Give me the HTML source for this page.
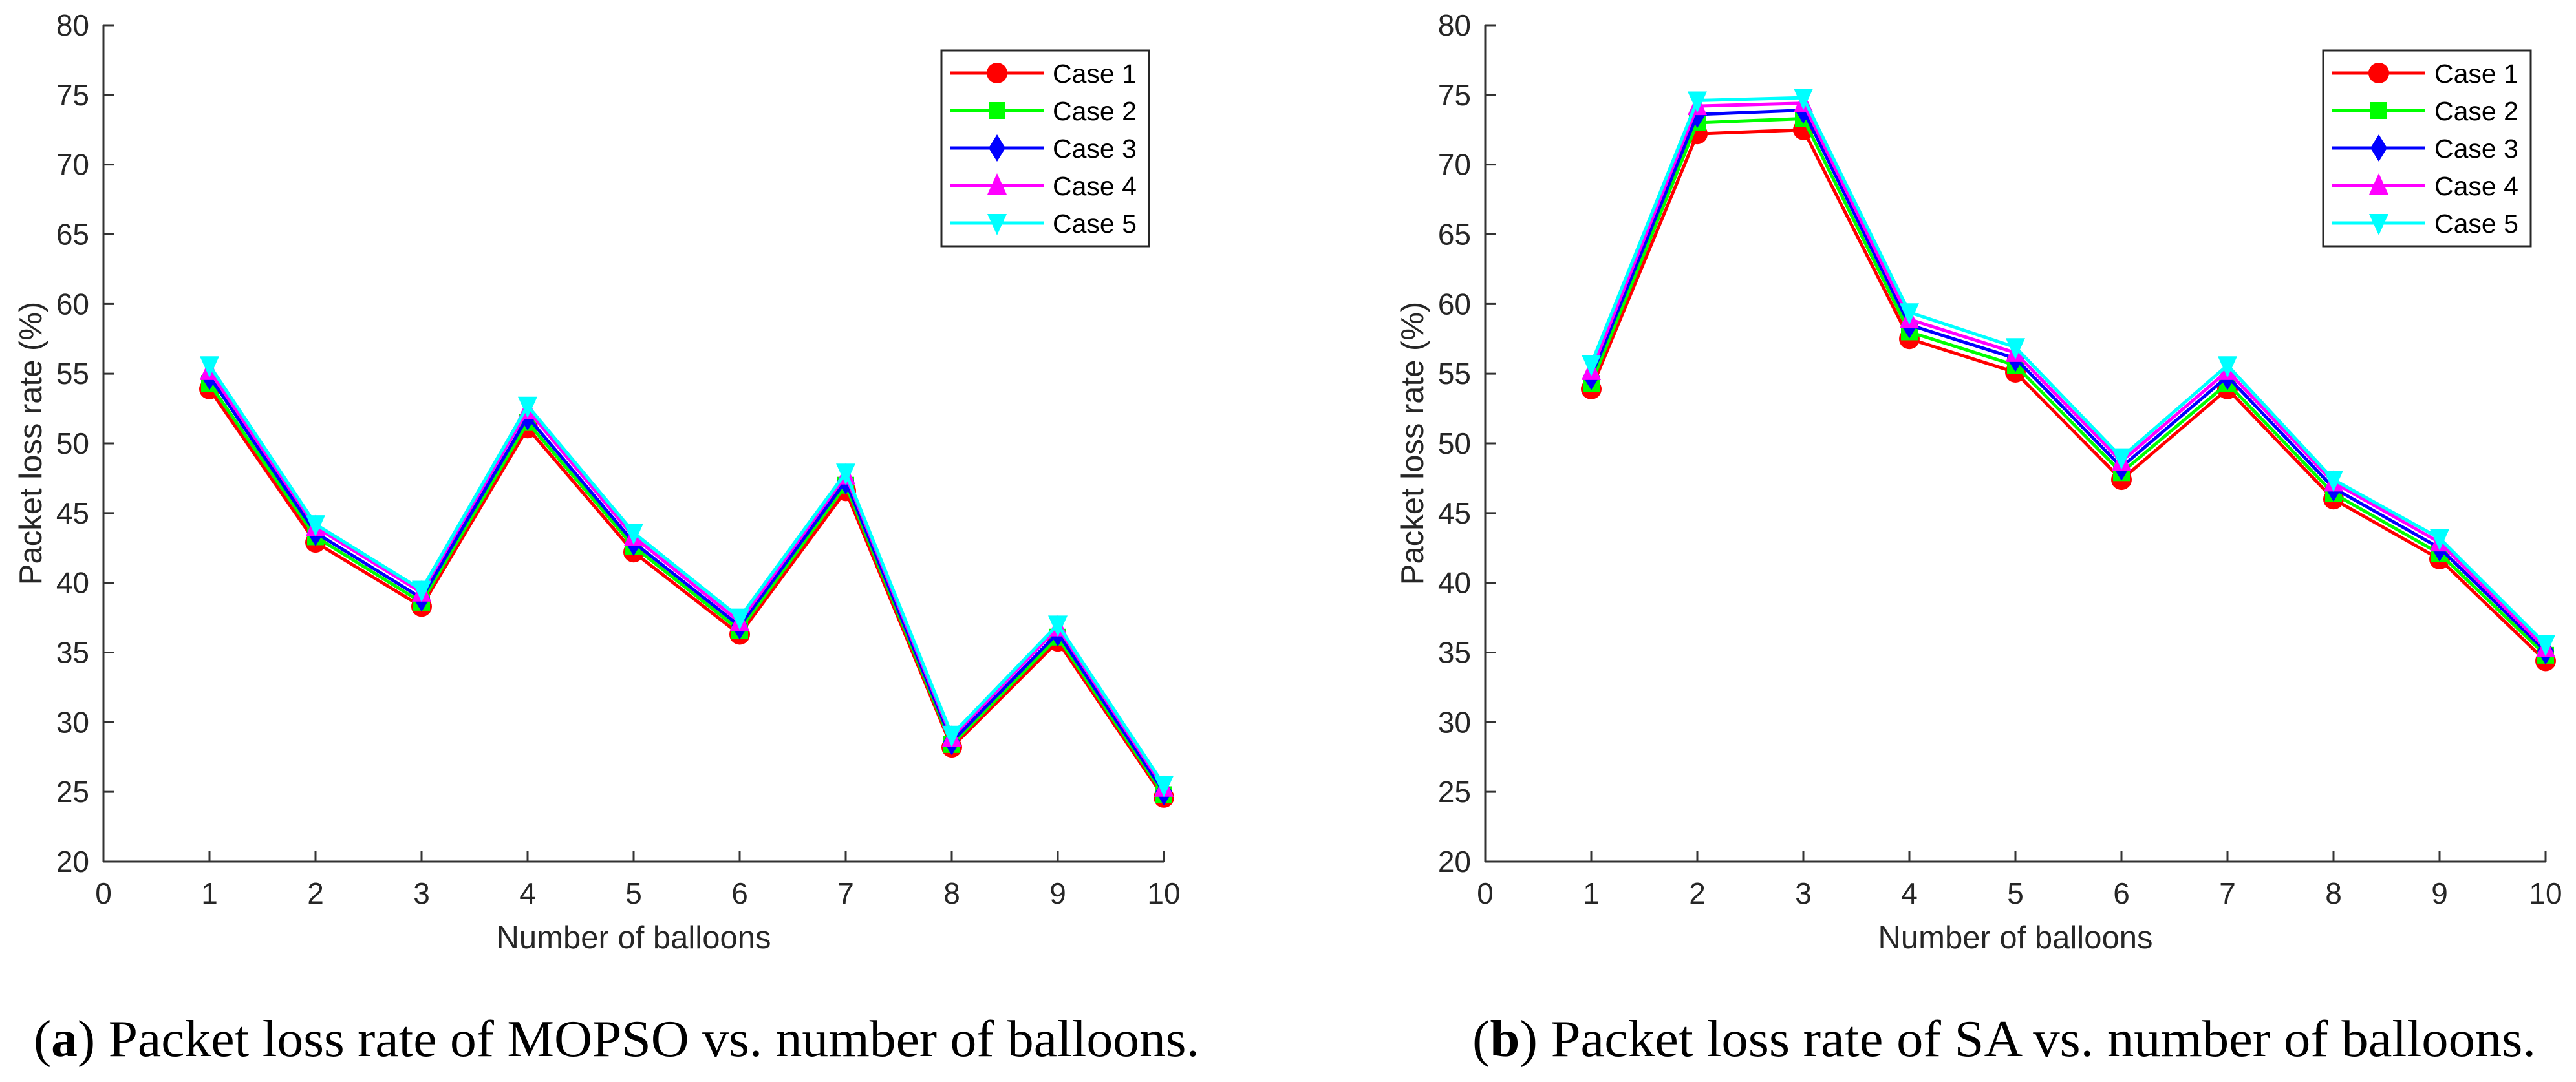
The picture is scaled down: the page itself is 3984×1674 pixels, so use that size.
<!DOCTYPE html>
<html><head><meta charset="utf-8"><style>
html,body{margin:0;padding:0;background:#fff;}
svg{display:block;}
</style></head><body>
<svg id="fig" xmlns="http://www.w3.org/2000/svg" width="3984" height="1674" viewBox="0 0 3984 1674">
<rect width="3984" height="1674" fill="#fff"/>
</svg>
<script>
const categories = [1,2,3,4,5,6,7,8,9,10];
const xTicks = [0,1,2,3,4,5,6,7,8,9,10];
const yTicks = [20,25,30,35,40,45,50,55,60,65,70,75,80];
const seriesNames = ["Case 1","Case 2","Case 3","Case 4","Case 5"];
const mopsoCase1 = [53.9,42.9,38.3,51.1,42.2,36.3,46.6,28.2,35.8,24.6];
const mopsoCase2 = [54.3,43.3,38.6,51.5,42.6,36.6,47.0,28.4,36.1,24.8];
const mopsoCase3 = [54.8,43.6,38.9,51.9,42.9,36.9,47.3,28.6,36.4,25.0];
const mopsoCase4 = [55.2,44.0,39.3,52.4,43.3,37.2,47.7,28.9,36.8,25.3];
const mopsoCase5 = [55.6,44.2,39.5,52.7,43.6,37.5,47.9,29.1,37.0,25.5];
const saCase1 = [53.9,72.2,72.5,57.5,55.1,47.4,53.9,46.0,41.7,34.4];
const saCase2 = [54.3,73.0,73.3,58.0,55.6,47.9,54.3,46.4,42.1,34.8];
const saCase3 = [54.8,73.6,73.9,58.5,56.1,48.3,54.8,46.8,42.5,35.1];
const saCase4 = [55.2,74.2,74.4,58.9,56.5,48.7,55.2,47.2,42.9,35.3];
const saCase5 = [55.7,74.6,74.8,59.4,56.9,49.0,55.6,47.4,43.2,35.6];

const NS = "http://www.w3.org/2000/svg";
const svg = document.getElementById('fig');
const colors = ["#ff0000","#00ff00","#0000ff","#ff00ff","#00ffff"];
const markers = ["circle","square","diamond","up","down"];

function mk(tag, attrs, parent){
  const e = document.createElementNS(NS, tag);
  for (const k in attrs) e.setAttribute(k, attrs[k]);
  (parent||svg).appendChild(e);
  return e;
}
function marker(g, type, cx, cy, color){
  let e;
  if (type==="circle") e = mk('circle',{cx:cx,cy:cy,r:16,fill:color},g);
  else if (type==="square") e = mk('rect',{x:cx-13,y:cy-13,width:26,height:26,fill:color},g);
  else if (type==="diamond") e = mk('polygon',{points:`${cx},${cy-21} ${cx+13},${cy} ${cx},${cy+21} ${cx-13},${cy}`,fill:color},g);
  else if (type==="up") e = mk('polygon',{points:`${cx},${cy-19} ${cx+15},${cy+14} ${cx-15},${cy+14}`,fill:color},g);
  else e = mk('polygon',{points:`${cx},${cy+19} ${cx+15},${cy-14} ${cx-15},${cy-14}`,fill:color},g);
  return e;
}

function drawChart(x0, id, seriesList, captionBold, captionRest, capX, capW){
  const x10 = x0 + 1640, yTop = 39, yBot = 1333;
  const xs = v => x0 + (v-0)/10*(x10-x0);
  const ys = v => yBot - (v-20)/60*(yBot-yTop);
  const g = mk('g',{});
  
  
  const ax = mk('g',{},g);
  
  
  mk('line',{x1:x0,y1:yTop,x2:x0,y2:yBot,stroke:"#333",'stroke-width':3},ax);
  mk('line',{x1:x0,y1:yBot,x2:x10,y2:yBot,stroke:"#333",'stroke-width':3},ax);
  yTicks.forEach(t=>{
    const y = ys(t);
    mk('line',{x1:x0,y1:y,x2:x0+17,y2:y,stroke:"#333",'stroke-width':3},ax);
    const tx = mk('text',{x:x0-22,y:y+16,'text-anchor':'end','font-family':'Liberation Sans, sans-serif','font-size':46,fill:'#262626'},ax);
    tx.textContent = t;
    
    
  });
  xTicks.forEach(t=>{
    const x = xs(t);
    if (t>0) mk('line',{x1:x,y1:yBot,x2:x,y2:yBot-17,stroke:"#333",'stroke-width':3},ax);
    const tx = mk('text',{x:x,y:1398,'text-anchor':'middle','font-family':'Liberation Sans, sans-serif','font-size':46,fill:'#262626'},ax);
    tx.textContent = t;
    
    
  });
  const xl = mk('text',{x:(x0+x10)/2,y:1467,'text-anchor':'middle','font-family':'Liberation Sans, sans-serif','font-size':49,fill:'#262626'},g);
  xl.textContent = "Number of balloons";
  
  
  const yl = mk('text',{x:0,y:0,'text-anchor':'middle','font-family':'Liberation Sans, sans-serif','font-size':49,fill:'#262626',transform:`translate(${x0-96},686) rotate(-90)`},g);
  yl.textContent = "Packet loss rate (%)";
  
  

  seriesList.forEach((vals, i)=>{
    const sg = mk('g',{},g);
    
    
    const pts = vals.map((v,j)=>xs(categories[j])+','+ys(v)).join(' ');
    mk('polyline',{points:pts,fill:'none',stroke:colors[i],'stroke-width':5,'stroke-linejoin':'round'},sg);
    vals.forEach((v,j)=>{
      const m = marker(sg, markers[i], xs(categories[j]), ys(v), colors[i]);
      
      
    });
  });

  const lx = x0 + 1296, ly = 78;
  const lg = mk('g',{},g);
  
  
  mk('rect',{x:lx,y:ly,width:321,height:303,fill:'#fff',stroke:'#262626','stroke-width':3},lg);
  seriesNames.forEach((n,i)=>{
    const cy = 113 + i*58;
    const eg = mk('g',{},lg);
    
    
    mk('line',{x1:lx+14,y1:cy,x2:lx+158,y2:cy,stroke:colors[i],'stroke-width':5},eg);
    marker(eg, markers[i], lx+86, cy, colors[i]);
    const t = mk('text',{x:lx+172,y:cy+15,'font-family':'Liberation Sans, sans-serif','font-size':41,fill:'#000'},eg);
    t.textContent = n;
  });

  const cap = mk('text',{x:capX,y:1634,'font-family':'Liberation Serif, serif','font-size':80,fill:'#000',textLength:capW,lengthAdjust:'spacingAndGlyphs'},svg);
  
  
  const t1 = mk('tspan',{},cap); t1.textContent = "(";
  const t2 = mk('tspan',{'font-weight':'bold'},cap); t2.textContent = captionBold;
  const t3 = mk('tspan',{},cap); t3.textContent = ") " + captionRest;
}

drawChart(160, 'mopso', [mopsoCase1,mopsoCase2,mopsoCase3,mopsoCase4,mopsoCase5], 'a', 'Packet loss rate of MOPSO vs. number of balloons.', 52, 1803);
drawChart(2297, 'sa', [saCase1,saCase2,saCase3,saCase4,saCase5], 'b', 'Packet loss rate of SA vs. number of balloons.', 2277, 1645);
</script>
</body></html>
